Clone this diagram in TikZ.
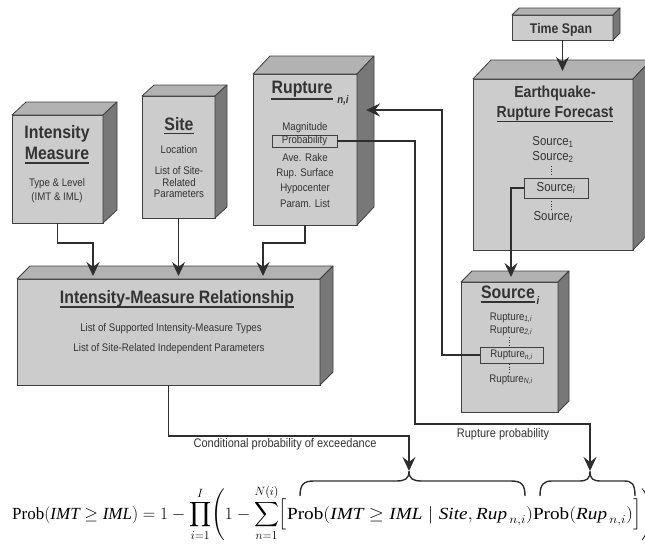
\documentclass[tikz,border=0pt]{standalone}
\usepackage{amsmath}
\usepackage{fontspec}
\setmainfont{Liberation Serif}
\newfontfamily\cond[FakeStretch=0.88]{Liberation Sans}
\usetikzlibrary{arrows.meta,calc}

\definecolor{frontgray}{gray}{0.80}
\definecolor{topgray}{gray}{0.70}
\definecolor{sidegray}{gray}{0.47}
\definecolor{edgegray}{gray}{0.25}
\definecolor{linegray}{gray}{0.18}
\definecolor{textgray}{gray}{0.2}

% top and right faces of a block whose front face is node #1
\newcommand\cubesides[3]{%
  \filldraw[topside] (#1.north west) -- ++(#2,-#3) -- ($(#1.north east)+(#2,-#3)$) -- (#1.north east) -- cycle;
  \filldraw[rightside] (#1.north east) -- ++(#2,-#3) -- ($(#1.south east)+(#2,-#3)$) -- (#1.south east) -- cycle;}

\begin{document}
\begin{tikzpicture}[x=1pt,y=-1pt,
  face/.style={rectangle, draw=edgegray, fill=frontgray, line width=0.8pt,
    inner sep=0pt, outer sep=0pt, anchor=north west},
  topside/.style={draw=edgegray, fill=topgray, line width=0.8pt, line join=round},
  rightside/.style={draw=edgegray, fill=sidegray, line width=0.8pt, line join=round},
  title/.style={font=\cond\bfseries\fontsize{18}{20}\selectfont, text=textgray, inner sep=0pt, anchor=base},
  titlemid/.style={title, font=\cond\bfseries\fontsize{16}{18}\selectfont},
  titlesmall/.style={title, font=\cond\bfseries\fontsize{14}{16}\selectfont},
  subs/.style={font=\cond\bfseries\itshape\fontsize{11}{12}\selectfont, text=textgray, inner sep=0pt, anchor=base},
  body/.style={font=\cond\fontsize{11}{12}\selectfont, text=textgray, inner sep=0pt, anchor=base},
  bodylarge/.style={body, font=\cond\fontsize{13}{14}\selectfont},
  framed/.style={draw=edgegray, line width=0.7pt, anchor=center},
  lbl/.style={font=\cond\fontsize{12.5}{14}\selectfont, text=textgray, inner sep=0pt, anchor=base},
  uline/.style={draw=textgray, line width=1.3pt},
  dotline/.style={draw=textgray, line width=1pt, dash pattern=on 1pt off 1.6pt},
  conn/.style={draw=linegray, line width=1.8pt, line join=miter,
    -{Stealth[length=14pt,width=13pt,inset=5pt]}},
  bracestyle/.style={draw=linegray, line width=1.4pt}]

\useasboundingbox (0,0) rectangle (645,546);

% ---------- blocks ----------
\node[face, minimum width=91pt,  minimum height=108pt] (im)   at (12,115) {};
\node[face, minimum width=73pt,  minimum height=122pt] (site) at (142,96) {};
\node[face, minimum width=104pt, minimum height=151pt] (rup)  at (253,74) {};
\node[face, minimum width=101pt, minimum height=25pt]  (ts)   at (512,15) {};
\node[face, minimum width=160pt, minimum height=171pt] (erf)  at (473,79) {};
\node[face, minimum width=97pt,  minimum height=130pt] (src)  at (461,282) {};
\node[face, minimum width=303pt, minimum height=106pt] (imr)  at (17,279) {};

\cubesides{im}{14}{13}
\cubesides{site}{12}{11}
\cubesides{rup}{17}{18}
\cubesides{ts}{7}{7}
\cubesides{erf}{18}{19}
\cubesides{src}{11}{11}
\cubesides{imr}{13}{13}

% ---------- Intensity Measure ----------
\node[title] (imT1) at (57,138) {Intensity};
\node[title] (imT2) at (57,159) {Measure};
\draw[uline] ($(imT2.base west)+(0,4)$) -- ($(imT2.base east)+(0,4)$);
\node[body] (imB1) at (57,186) {Type \& Level};
\node[body] (imB2) at (57,200) {(IMT \& IML)};

% ---------- Site ----------
\node[title] (siteT) at (179,130) {Site};
\draw[uline] ($(siteT.base west)+(0,3.5)$) -- ($(siteT.base east)+(0,3.5)$);
\node[body] (siteB1) at (179,153) {Location};
\node[body] (siteB2) at (179,174) {List of Site-};
\node[body] (siteB3) at (179,186) {Related};
\node[body] (siteB4) at (179,197) {Parameters};

% ---------- Rupture ----------
\node[title] (rupT) at (302,93) {Rupture};
\draw[uline] ($(rupT.base west)+(0,6)$) -- ($(rupT.base east)+(0,6)$);
\node[subs] (rupS) at (343,103) {n,i};
\node[body] (rupB1) at (305,130) {Magnitude};
\node[body, framed, minimum width=65pt, minimum height=12pt] (prob) at (304.5,141) {Probability};
\node[body] (rupB3) at (305,161) {Ave. Rake};
\node[body] (rupB4) at (305,176) {Rup. Surface};
\node[body] (rupB5) at (305,191) {Hypocenter};
\node[body] (rupB6) at (305,207) {Param. List};

% ---------- Time Span ----------
\node[titlesmall] (tsT) at (561,33) {Time Span};

% ---------- Earthquake-Rupture Forecast ----------
\node[titlemid] (erfT1) at (555,97) {Earthquake-};
\node[titlemid] (erfT2) at (555,117) {Rupture Forecast};
\draw[uline] ($(erfT2.base west)+(0,4.5)$) -- ($(erfT2.base east)+(0,4.5)$);
\node[bodylarge] (erfB1) at (553,145) {Source\textsubscript{1}};
\node[bodylarge] (erfB2) at (553,160) {Source\textsubscript{2}};
\draw[dotline] (551.5,166) -- (551.5,176);
\node[bodylarge, framed, minimum width=64pt, minimum height=20pt] (srci) at (556,188) {Source\textsubscript{\itshape i}};
\draw[dotline] (551.5,201) -- (551.5,209);
\node[bodylarge] (erfB4) at (553,220) {Source\textsubscript{\itshape I}};

% ---------- Source i ----------
\node[title] (srcT) at (508,298) {Source};
\draw[uline] ($(srcT.base west)+(0,4)$) -- ($(srcT.base east)+(0,4)$);
\node[subs] (srcS) at (538,304) {i};
\node[body] (srcB1) at (511,320) {Rupture\textsubscript{\itshape 1,i}};
\node[body] (srcB2) at (511,333) {Rupture\textsubscript{\itshape 2,i}};
\draw[dotline] (509.5,337) -- (509.5,346);
\node[body, framed, minimum width=63pt, minimum height=16pt] (rupni) at (511.5,355) {Rupture\textsubscript{\itshape n,i}};
\draw[dotline] (509.5,364) -- (509.5,372);
\node[body] (srcB4) at (511,382) {Rupture\textsubscript{\itshape N,i}};

% ---------- Intensity-Measure Relationship ----------
\node[title] (imrT) at (177,303) {Intensity-Measure Relationship};
\draw[uline] ($(imrT.base west)+(0,4)$) -- ($(imrT.base east)+(0,4)$);
\node[body] (imrB1) at (171,331) {List of Supported Intensity-Measure Types};
\node[body] (imrB2) at (169,351) {List of Site-Related Independent Parameters};

% ---------- labels on the lower connectors ----------
\node[lbl] (condL) at (285,447) {Conditional probability of exceedance};
\node[lbl] (rpL) at (503,437) {Rupture probability};

% ---------- formula ----------
\node[anchor=base west, inner sep=0pt, text=black] (formula) at (12,519)
  {\fontsize{17}{19}\selectfont
   $\displaystyle \mathrm{Prob}(\mathit{IMT}\ge \mathit{IML}) = 1-\prod_{i=1}^{I}\Biggl(1-\sum_{n=1}^{N(i)}\Bigl[\mbox{\scalebox{1.13}[1]{$\mathrm{Prob}(\mathit{IMT}\ge\mathit{IML}\mid \mathit{Site},\mathit{Rup}_{\,n,i})\mathrm{Prob}(\mathit{Rup}_{\,n,i})$}}\Bigr]\Biggr)$};

% ---------- braces over the formula ----------
\coordinate (b1) at (409,471);
\coordinate (b2) at (590,471);
\draw[bracestyle] (300,496) .. controls (300,484) and (304,481) .. (314,481) -- (396,481)
  .. controls (405,481) and (409,479) .. (b1)
  .. controls (409,479) and (413,481) .. (422,481) -- (511,481)
  .. controls (521,481) and (525,484) .. (525,496);
\draw[bracestyle] (540,496) .. controls (540,484) and (544,481) .. (552,481) -- (579,481)
  .. controls (587,481) and (590,479) .. (b2)
  .. controls (590,479) and (593,481) .. (601,481) -- (624,481)
  .. controls (632,481) and (635,484) .. (635,496);

% ---------- connectors ----------
\coordinate (in1) at (93,276);
\coordinate (in3) at (263,276);
\draw[conn] (im.south) -- ++(0,20) -| (in1);
\draw[conn] (site.south) -- (site.south |- in1);
\draw[conn] (rup.south) -- ++(0,18) -| (in3);
\draw[conn] (ts.south) -- ($(ts.south |- erf.north)+(0,-8)$);
\draw[conn] (srci.west) -| ($(src.north west)+(50,-5)$);
\draw[conn] (rupni.west) -| ($(rup.north east)+(85,36)$) -- ($(rup.north east)+(9,36)$);
\draw[conn] (imr.south) -- ++(0,51) -| (b1);
\draw[conn] (prob.east) -| ($(rup.north east)+(58,350)$) -| (b2);
\end{tikzpicture}
\end{document}
